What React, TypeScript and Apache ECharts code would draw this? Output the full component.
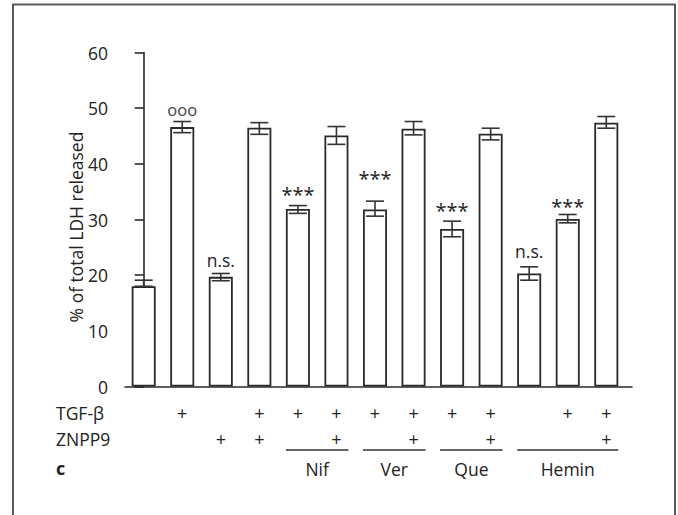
import React, { useEffect, useRef } from 'react';
import * as echarts from 'echarts';

// ---- data ----
const categories = [
  'Control', 'TGF-β', 'ZNPP9', 'TGF-β+ZNPP9',
  'Nif+TGF-β', 'Nif+TGF-β+ZNPP9',
  'Ver+TGF-β', 'Ver+TGF-β+ZNPP9',
  'Que+TGF-β', 'Que+TGF-β+ZNPP9',
  'Hemin', 'Hemin+TGF-β', 'Hemin+TGF-β+ZNPP9',
];
const means = [18.0, 46.6, 19.7, 46.5, 31.9, 45.1, 31.8, 46.3, 28.3, 45.4, 20.3, 30.1, 47.4];
const errLow = [18.0, 45.6, 19.0, 45.3, 31.1, 43.5, 30.6, 45.2, 26.9, 44.3, 19.1, 29.4, 46.4];
const errHigh = [19.1, 47.6, 20.3, 47.4, 32.5, 46.7, 33.3, 47.6, 29.7, 46.4, 21.5, 30.9, 48.5];
const annotations = ['', 'ooo', 'n.s.', '', '***', '', '***', '', '***', '', 'n.s.', '***', ''];
const annotLevel: (number | null)[] = [null, 49.8, 22.7, null, 35.3, null, 38.3, null, 32.5, null, 24.4, 33.3, null];
const tgfBeta = [0, 1, 0, 1, 1, 1, 1, 1, 1, 1, 0, 1, 1];
const znpp9 = [0, 0, 1, 1, 0, 1, 0, 1, 0, 1, 0, 0, 1];
const groupNames = ['Nif', 'Ver', 'Que', 'Hemin'];
const groupStart = [4, 6, 8, 10];
const groupEnd = [5, 7, 9, 12];
const yMin = 0;
const yMax = 60;
const yStep = 10;
const yAxisTitle = '% of total LDH released';
const rowLabels = ['TGF-β', 'ZNPP9'];
const panelLetter = 'c';

export default function App() {
  const ref = useRef<HTMLDivElement>(null);

  useEffect(() => {
    const chart = echarts.init(ref.current!, null, { renderer: 'svg' });
    const FONT = '"Open Sans", "Noto Sans", sans-serif';
    const INK = '#222222';
    const LINE = '#2a2a2a';
    const BAR_HALF = 12;

    const annotData = annotations
      .map((t, i) => ({ t, i }))
      .filter((d) => d.t !== '' && annotLevel[d.i] !== null)
      .map((d) => ({ value: [d.i, annotLevel[d.i] as number], name: d.t }));

    const textStyle = (text: string, size: number, extra: any = {}) => ({
      text,
      fill: INK,
      fontSize: size,
      fontFamily: FONT,
      textAlign: 'center',
      textVerticalAlign: 'middle',
      align: 'center',
      verticalAlign: 'middle',
      ...extra,
    });

    const option: any = {
      animation: false,
      backgroundColor: '#fff',
      grid: { left: 125, right: 46, top: 52.5, bottom: 128.5, containLabel: false },
      xAxis: {
        type: 'value',
        min: -0.485,
        max: 12.667,
        axisLine: { show: true, lineStyle: { color: LINE, width: 1.6 } },
        axisTick: { show: false },
        axisLabel: { show: false },
        splitLine: { show: false },
      },
      yAxis: {
        type: 'value',
        min: yMin,
        max: yMax,
        interval: yStep,
        axisLine: { show: true, lineStyle: { color: LINE, width: 1.6 } },
        axisTick: { show: true, length: 9, lineStyle: { color: LINE, width: 1.6 } },
        axisLabel: { margin: 17, fontSize: 17.5, color: INK, fontFamily: FONT },
        splitLine: { show: false },
      },
      graphic: [
        {
          type: 'rect',
          shape: { x: 13, y: 4.5, width: 662, height: 620 },
          style: { fill: 'none', stroke: '#5a5a5a', lineWidth: 2 },
          silent: true,
        },
        {
          type: 'text',
          x: 76,
          y: 227,
          rotation: Math.PI / 2,
          style: textStyle(yAxisTitle, 17.5),
        },
        {
          type: 'text',
          x: 56,
          y: 413,
          style: textStyle(rowLabels[0], 17.5, { textAlign: 'left', align: 'left' }),
        },
        {
          type: 'text',
          x: 56,
          y: 439,
          style: textStyle(rowLabels[1], 17.5, { textAlign: 'left', align: 'left' }),
        },
        {
          type: 'text',
          x: 56,
          y: 468,
          style: textStyle(panelLetter, 18, { textAlign: 'left', align: 'left', fontWeight: 'bold' }),
        },
      ],
      series: [
        {
          type: 'bar',
          name: 'LDH',
          data: means.map((v, i) => ({ value: [i, v], name: categories[i] })),
          barWidth: 24,
          itemStyle: { color: '#fff', borderColor: LINE, borderWidth: 1.8 },
          z: 2,
        },
        {
          type: 'custom',
          name: 'SEM',
          data: errLow.map((l, i) => [i, l, errHigh[i]]),
          encode: { x: 0, y: [1, 2] },
          z: 3,
          renderItem: (params: any, api: any) => {
            const x = api.coord([api.value(0), 0])[0];
            const yl = api.coord([0, api.value(1)])[1];
            const yh = api.coord([0, api.value(2)])[1];
            const st = { stroke: '#333', lineWidth: 1.6 };
            return {
              type: 'group',
              children: [
                { type: 'line', shape: { x1: x, y1: yl, x2: x, y2: yh }, style: st },
                { type: 'line', shape: { x1: x - 9, y1: yh, x2: x + 9, y2: yh }, style: st },
                { type: 'line', shape: { x1: x - 9, y1: yl, x2: x + 9, y2: yl }, style: st },
              ],
            };
          },
        },
        {
          type: 'custom',
          name: 'significance',
          data: annotData,
          encode: { x: 0, y: 1 },
          z: 4,
          renderItem: (params: any, api: any) => {
            const p = api.coord([api.value(0), api.value(1)]);
            const t = annotData[params.dataIndex].name;
            const isStar = t === '***';
            const isRing = t === 'ooo';
            return {
              type: 'text',
              x: p[0],
              y: p[1] + (isStar ? 5 : 0),
              style: textStyle(t, isStar ? 20 : isRing ? 16.5 : 17.5, isRing ? { fill: '#444' } : {}),
            };
          },
        },
        {
          type: 'custom',
          name: 'treatments',
          data: tgfBeta.map((t, i) => [i, 0, t, znpp9[i]]),
          encode: { x: 0, y: 1 },
          z: 4,
          renderItem: (params: any, api: any) => {
            const p = api.coord([api.value(0), 0]);
            const children: any[] = [];
            const mk = (y: number) => ({ type: 'text', x: p[0], y, style: textStyle('+', 18) });
            if (api.value(2) === 1) children.push(mk(p[1] + 26));
            if (api.value(3) === 1) children.push(mk(p[1] + 52));
            return { type: 'group', children };
          },
        },
        {
          type: 'custom',
          name: 'groups',
          data: groupStart.map((s, k) => [s, 0, groupEnd[k]]),
          encode: { x: [0, 2], y: 1 },
          z: 4,
          renderItem: (params: any, api: any) => {
            const a = api.coord([api.value(0), 0]);
            const b = api.coord([api.value(2), 0]);
            const y0 = a[1];
            return {
              type: 'group',
              children: [
                {
                  type: 'line',
                  shape: { x1: a[0] - BAR_HALF, y1: y0 + 63.5, x2: b[0] + BAR_HALF, y2: y0 + 63.5 },
                  style: { stroke: '#333', lineWidth: 1.4 },
                },
                {
                  type: 'text',
                  x: (a[0] + b[0]) / 2,
                  y: y0 + 82,
                  style: textStyle(groupNames[params.dataIndex], 17.5),
                },
              ],
            };
          },
        },
      ],
    };

    chart.setOption(option);
    return () => chart.dispose();
  }, []);

  return (
    <div
      ref={ref}
      style={{ position: 'absolute', left: 0, top: 0, width: 678, height: 515, background: '#fff' }}
    />
  );
}
